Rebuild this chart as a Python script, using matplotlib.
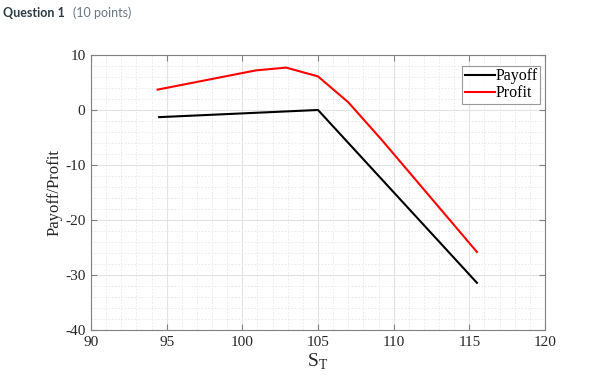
import matplotlib
matplotlib.use('Agg')
import matplotlib.pyplot as plt
from matplotlib.ticker import MultipleLocator

# Datos
payoff_x = [94.5, 105.0, 115.5]
payoff_y = [-1.3, 0.0, -31.4]
profit_x = [94.4, 100.9, 102.9, 105.0, 107.0, 109.2, 115.5]
profit_y = [3.7, 7.2, 7.7, 6.1, 1.4, -5.4, -25.8]

x_ticks = [90, 95, 100, 105, 110, 115, 120]
y_ticks = [10, 0, -10, -20, -30, -40]

plt.rcParams['font.family'] = ['Liberation Serif', 'DejaVu Serif']
plt.rcParams['axes.unicode_minus'] = False

fig = plt.figure(figsize=(6.11, 3.79), dpi=100)
ax = fig.add_axes([0.149, 0.129, 0.743, 0.726])

ax.plot(payoff_x, payoff_y, color='black', lw=1.5, label='Payoff')
ax.plot(profit_x, profit_y, color='red', lw=1.5, label='Profit')

ax.set_xlim(90, 120)
ax.set_ylim(-40, 10)
ax.set_xticks(x_ticks)
ax.set_yticks(y_ticks)
ax.xaxis.set_minor_locator(MultipleLocator(1))
ax.yaxis.set_minor_locator(MultipleLocator(2))
ax.grid(which='major', color='#e3e3e3', lw=0.8)
ax.grid(which='minor', color='#e8e8e8', lw=0.6, ls=(0, (2, 2)))
ax.set_axisbelow(True)

for s in ax.spines.values():
    s.set_color('#808080')
    s.set_linewidth(0.8)
ax.tick_params(which='major', direction='in', top=True, right=True,
               length=4, color='#808080', labelsize=11, labelcolor='#262626', pad=4)
ax.tick_params(which='minor', length=0)

ax.set_xlabel('S$_\\mathregular{T}$', fontsize=14, color='#262626', labelpad=2)
ax.set_ylabel('Payoff/Profit', fontsize=12, color='#262626', labelpad=2)

leg = ax.legend(loc='upper right', bbox_to_anchor=(0.99, 0.96), fontsize=11.5,
                frameon=True, fancybox=False, handlelength=1.9, handletextpad=0.05,
                borderpad=0.15, labelspacing=0.05, borderaxespad=0)
leg.get_frame().set_edgecolor('#808080')
leg.get_frame().set_linewidth(0.8)

fig.text(0.005, 0.955, 'Question 1', fontsize=9, fontweight='bold',
         color='#2d3b45', family='Lato', va='baseline')
fig.text(0.119, 0.955, '(10 points)', fontsize=9, color='#6b7780',
         family='Lato', va='baseline')

fig.savefig('out.png', dpi=100)
